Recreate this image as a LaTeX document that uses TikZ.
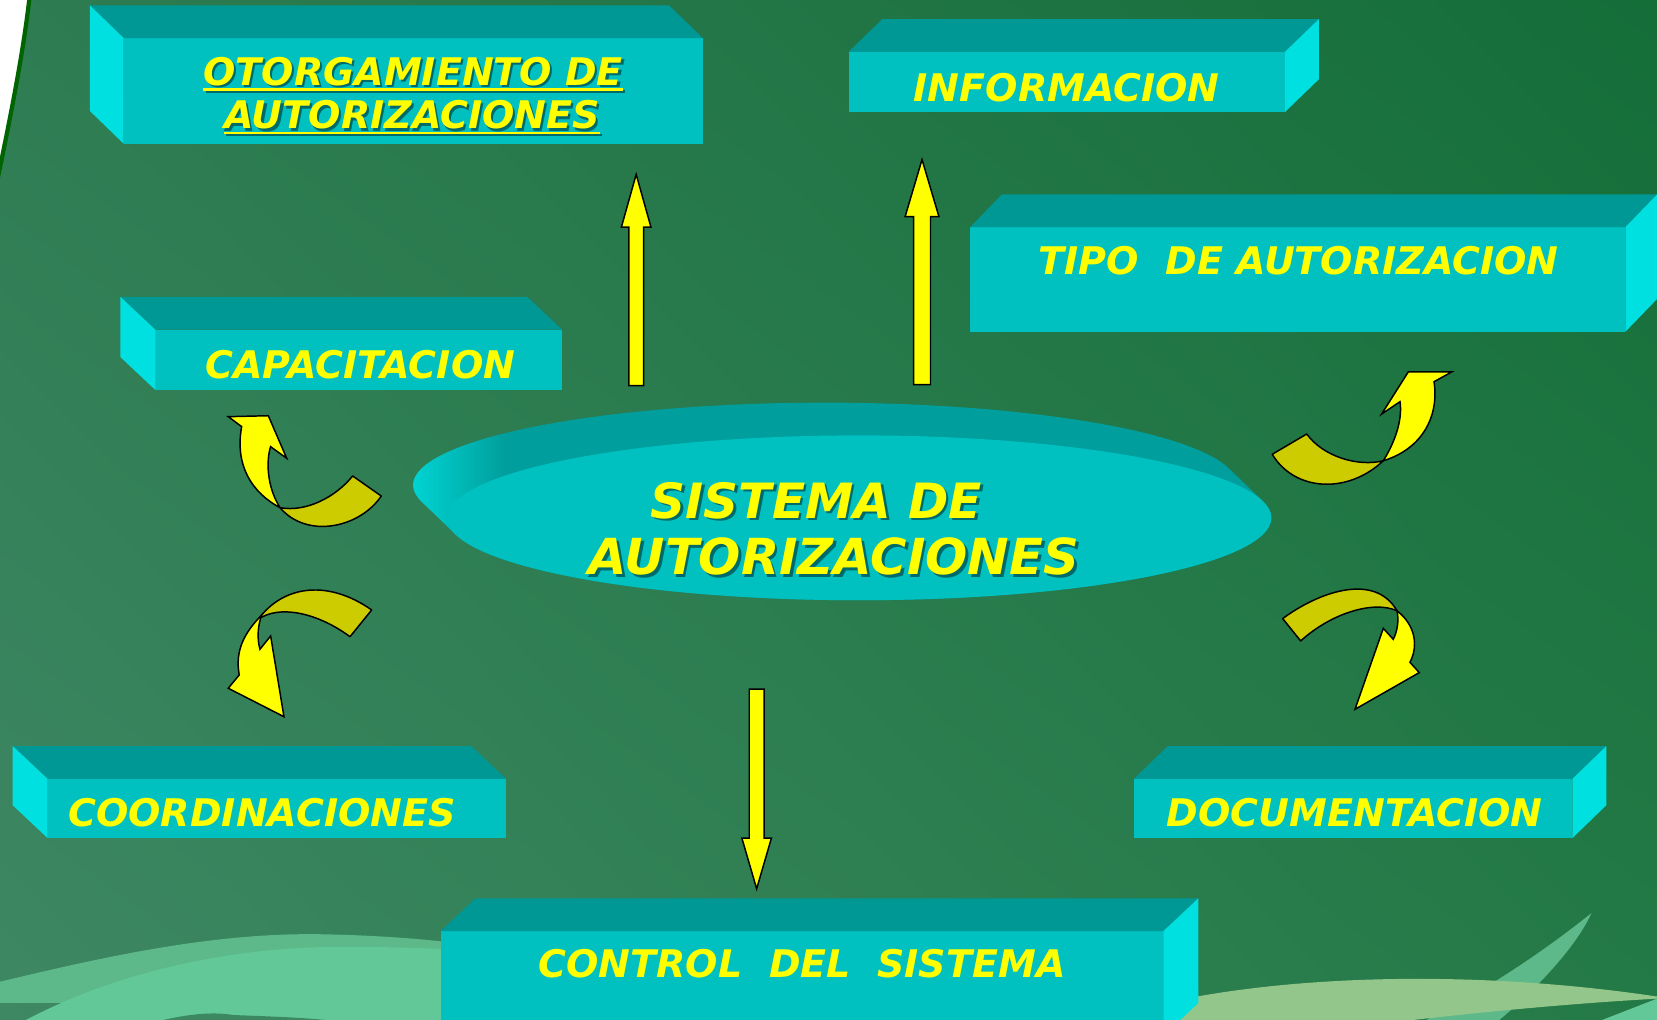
\documentclass[tikz,border=0pt]{standalone}
\usepackage{fontspec}
\setmainfont{DejaVu Sans}
\usetikzlibrary{calc,shapes.geometric,shadings}
\definecolor{yl}{RGB}{255,255,0}
\definecolor{ol}{RGB}{204,204,0}
\definecolor{frontc}{RGB}{0,192,192}
\definecolor{topc}{RGB}{0,152,148}
\definecolor{sidec}{RGB}{0,224,224}
\definecolor{bgUL}{RGB}{46,124,82}
\definecolor{bgLL}{RGB}{62,136,100}
\definecolor{bgUR}{RGB}{20,110,56}
\definecolor{bgLR}{RGB}{36,122,70}
\definecolor{waveA}{RGB}{94,185,138}
\definecolor{waveB}{RGB}{98,200,152}
\definecolor{leafc}{RGB}{147,198,138}
\definecolor{bumpc}{RGB}{60,136,96}
\definecolor{shd}{RGB}{0,105,105}
\definecolor{edgegreen}{RGB}{0,100,0}
\pgfdeclarehorizontalshading{discshade}{100bp}{rgb(0bp)=(0,0.87,0.87); rgb(26bp)=(0,0.87,0.87); rgb(32bp)=(0,0.62,0.61); rgb(100bp)=(0,0.62,0.61)}
\newsavebox\ulbox
\newcommand\ulx[1]{\sbox\ulbox{#1}\usebox\ulbox\llap{\rule[-5pt]{\wd\ulbox}{2.5pt}}}
% #1 name, #2 cx, #3 cy, #4 width, #5 height, #6 depth dx (negative: side on left)
\newcommand\mycube[6]{%
  \node[frontface, minimum width=#4, minimum height=#5] (#1) at (#2,#3) {};
  \fill[topc] (#1.north west) -- (#1.north east) -- ++(#6,-31) -- ($(#1.north west)+(#6,-31)$) -- cycle;
  \ifdim #6pt<0pt
    \fill[sidec] (#1.north west) -- ++(#6,-31) -- ($(#1.south west)+(#6,-31)$) -- (#1.south west) -- cycle;
  \else
    \fill[sidec] (#1.north east) -- ++(#6,-31) -- ($(#1.south east)+(#6,-31)$) -- (#1.south east) -- cycle;
  \fi}
% #1 tail, #2 tip, #3 shaft half width, #4 head half width, #5 signed head length
\newcommand\blockarr[5]{%
  \filldraw[yarr] ($(#1)+(-#3,0)$) -- ($(#2)+(-#3,#5)$) -- ($(#2)+(-#4,#5)$) -- (#2) -- ($(#2)+(#4,#5)$) -- ($(#2)+(#3,#5)$) -- ($(#1)+(#3,0)$) -- cycle;}
\begin{document}
\begin{tikzpicture}[x=1pt,y=-1pt,
  frontface/.style={rectangle, fill=frontc, draw=none, inner sep=0pt, outer sep=0pt},
  yarr/.style={fill=yl, draw=black, line width=1.4pt, line join=miter},
  oarr/.style={fill=ol, draw=black, line width=1.4pt, line join=round},
  lbl/.style={text=yl, font=\fontsize{36}{40}\selectfont\bfseries\itshape, inner sep=0pt, anchor=base},
  biglbl/.style={text=yl, font=\fontsize{46}{50}\selectfont\bfseries\itshape, inner sep=0pt, anchor=base}]
\useasboundingbox (0,0) rectangle (1568,965);
\clip (0,0) rectangle (1568,965);
% background
\shade[upper left=bgUL, upper right=bgUR, lower left=bgLL, lower right=bgLR] (0,0) rectangle (1568,965);
\fill[white] (-2,-2) -- (28,-2) .. controls (22,50) and (10,110) .. (-2,167) -- cycle;
\draw[edgegreen, line width=4pt] (28,-3) .. controls (22,50) and (10,110) .. (-2,168);
% bottom waves
\fill[waveA] (0,929) .. controls (100,905) and (200,883) .. (300,884) .. controls (360,885) and (410,889) .. (450,895) -- (450,965) -- (25,965) -- (60,949) -- (0,949) -- cycle;
\fill[waveB] (25,965) .. controls (110,920) and (220,895) .. (330,896) .. controls (380,896) and (420,898) .. (450,900) -- (450,965) -- cycle;
\fill[bumpc] (151,966) .. controls (185,958) and (205,958) .. (221,960.5) .. controls (260,962) and (290,963) .. (315,966) -- cycle;
\fill[waveA] (1350,965) .. controls (1400,940) and (1455,905) .. (1506,864) .. controls (1492,895) and (1455,935) .. (1419,965) -- cycle;
\fill[leafc] (1090,952) .. controls (1200,925) and (1380,915) .. (1568,943) -- (1568,945) .. controls (1480,950) and (1400,958) .. (1330,966) -- (1090,966) -- cycle;
\fill[waveB] (1514,966) -- (1568,945) -- (1568,966) -- cycle;
% boxes
\mycube{otorgF}{391}{86}{548}{100}{-32}
\mycube{infoF}{1009.5}{77.5}{413}{57}{32}
\mycube{tipoF}{1228}{264.5}{620}{99}{30}
\mycube{capF}{339.5}{340.5}{385}{57}{-33}
\mycube{coordF}{262}{765}{434}{56}{-33}
\mycube{docF}{1280.5}{765}{415}{56}{32}
\mycube{ctrlF}{759}{930.5}{684}{99}{33}
% central disc
\shade[shading=discshade] (399,474.8) arc[start angle=168.33, end angle=348.33, x radius=390, y radius=78] -- (1195,474.2) arc[start angle=-11.67, end angle=168.33, x radius=390, y radius=78] -- cycle;
\node[ellipse, fill=frontc, draw=none, minimum width=780, minimum height=156, inner sep=0pt] (sys) at (813,490) {};
% texts
\node[lbl, text=shd] (otorg1s) at (393,83) {\ulx{OTORGAMIENTO DE}};
\node[lbl, text=shd] (otorg2s) at (392,124) {\ulx{AUTORIZACIONES}};
\node[lbl] (otorg1) at (391,81) {\ulx{OTORGAMIENTO DE}};
\node[lbl] (otorg2) at (390,122) {\ulx{AUTORIZACIONES}};
\node[lbl] (info) at (1009.5,96) {INFORMACION};
\node[lbl] (tipo) at (1229,260) {TIPO\ \ DE AUTORIZACION};
\node[lbl] (capac) at (341,358) {CAPACITACION};
\node[lbl] (coord) at (248,782.5) {COORDINACIONES};
\node[lbl] (doc) at (1282,782) {DOCUMENTACION};
\node[lbl] (ctrl) at (759,925) {CONTROL\ \ DEL\ \ SISTEMA};
\node[biglbl, text=shd] (sys1s) at (775,493) {SISTEMA DE};
\node[biglbl, text=shd, font=\fontsize{47}{50}\selectfont\bfseries\itshape] (sys2s) at (791.5,546.5) {AUTORIZACIONES};
\node[biglbl] (sys1) at (772.5,490.5) {SISTEMA DE};
\node[biglbl, font=\fontsize{47}{50}\selectfont\bfseries\itshape] (sys2) at (789,544) {AUTORIZACIONES};
% straight arrows
\coordinate (a1t) at (602,365); \coordinate (a1h) at (602,165);
\coordinate (a2t) at (872.5,364); \coordinate (a2h) at (872.5,151);
\coordinate (a3t) at (716,652); \coordinate (a3h) at (716,841);
\blockarr{a1t}{a1h}{7}{14}{50}
\blockarr{a2t}{a2h}{8}{16}{54}
\blockarr{a3t}{a3h}{7}{14}{-48}
% curved arrows
\filldraw[yarr] (265,480.4) .. controls (238,466) and (222,440) .. (228.7,403.7) -- (216,394.3) -- (253.9,393.4) -- (271.3,433.7) -- (256.1,422.7) .. controls (252,435) and (252,460) .. (265,480.4) -- cycle;
\filldraw[oarr] (265,480.4) .. controls (290,485) and (318,470) .. (333.7,450.4) -- (360.8,469.4) .. controls (340,500) and (290,510) .. (265,480.4) -- cycle;
\filldraw[yarr] (247.6,582) .. controls (232,598) and (222,615) .. (226.4,638.7) -- (216,651.3) -- (268.7,678.2) -- (256.1,601.8) -- (246,614.4) .. controls (243,604) and (244,592) .. (247.6,582) -- cycle;
\filldraw[oarr] (247.6,582) .. controls (270,555) and (310,548) .. (351.7,577.2) -- (331.2,602.5) .. controls (305,583) and (270,572) .. (247.6,584) -- cycle;
\filldraw[yarr] (1309,436) .. controls (1322,415) and (1327,395) .. (1324.8,380.1) -- (1307.4,391.8) -- (1332.6,352) -- (1373.6,352) -- (1357,361.2) .. controls (1362,395) and (1345,425) .. (1309,436) -- cycle;
\filldraw[oarr] (1309,436) .. controls (1285,442) and (1252,432) .. (1236.5,410.7) -- (1203.9,429.9) .. controls (1225,465) and (1275,468) .. (1309,436) -- cycle;
\filldraw[yarr] (1322,578) .. controls (1324,588) and (1322,598) .. (1318.4,605) -- (1309,594.6) -- (1282.2,671.2) -- (1343,636.5) -- (1334.2,626.7) .. controls (1342,612) and (1340,592) .. (1322,578) -- cycle;
\filldraw[oarr] (1213.8,585.4) .. controls (1245,562) and (1300,540) .. (1322,578) .. controls (1300,568) and (1260,580) .. (1230.8,606.5) -- cycle;
\end{tikzpicture}
\end{document}
